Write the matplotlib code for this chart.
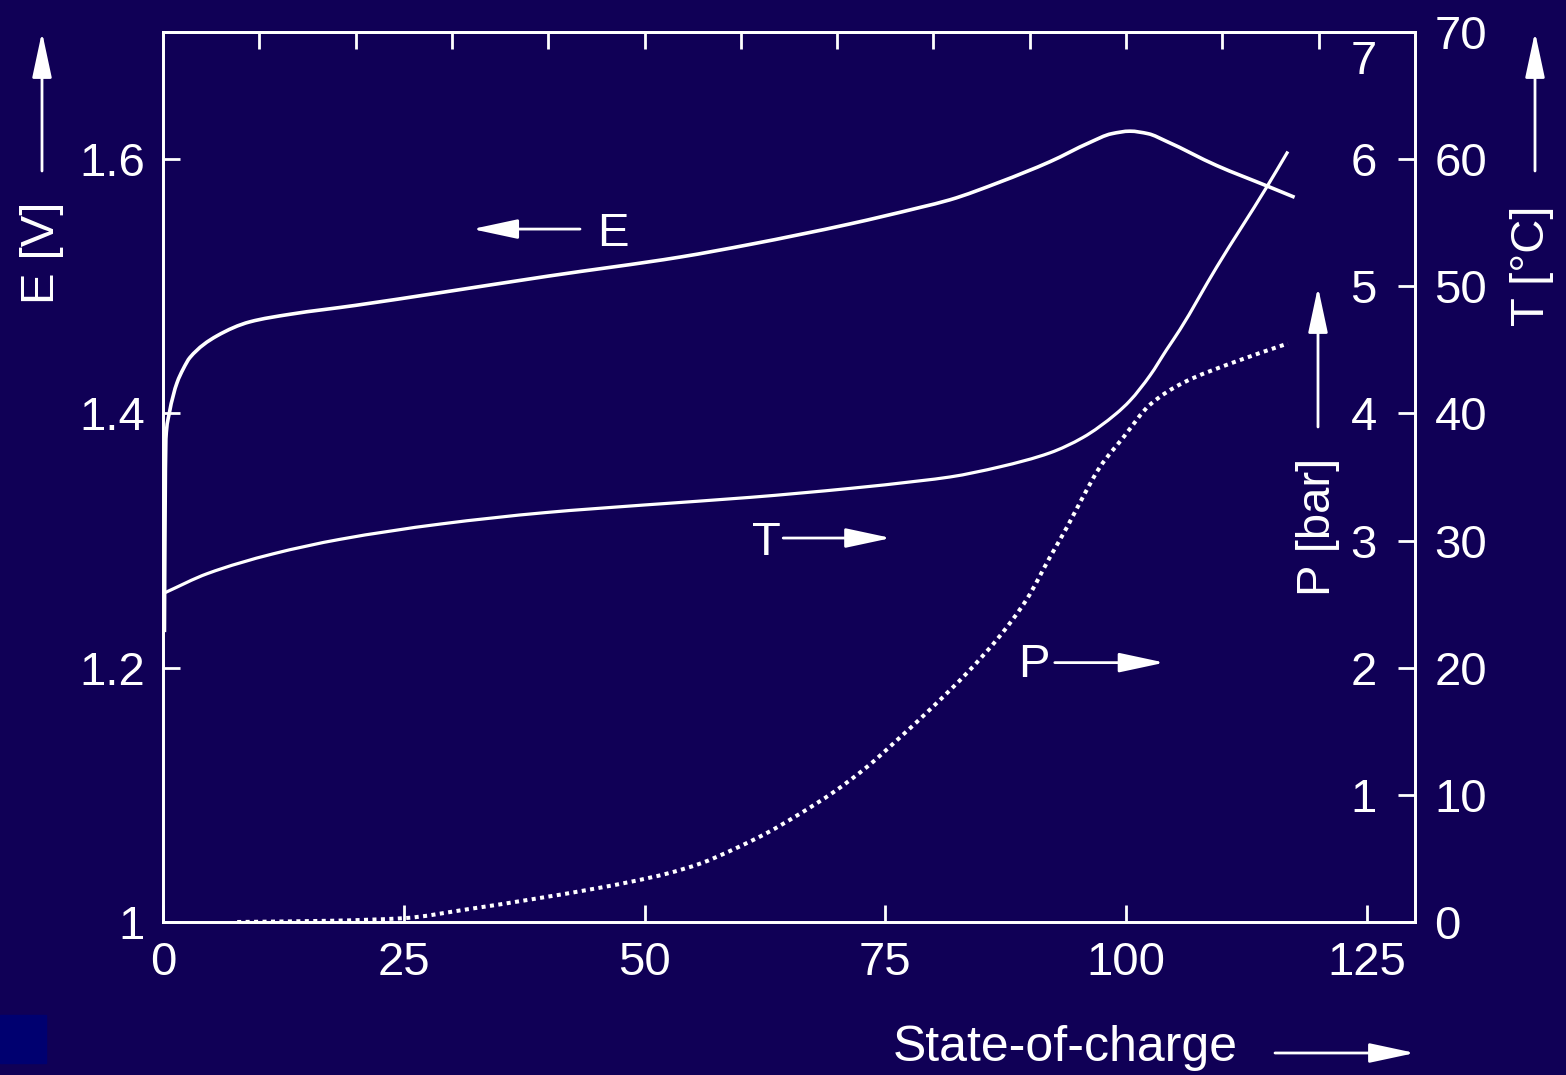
import matplotlib
matplotlib.use('Agg')
import numpy as np
import matplotlib.pyplot as plt
from matplotlib.path import Path
from matplotlib.patches import PathPatch, Rectangle
from matplotlib.transforms import blended_transform_factory

plt.rcParams['font.family'] = ['Liberation Sans', 'DejaVu Sans']

BG = '#100056'
FG = 'white'
W, H = 1566, 1075

# state of charge (x) and cell voltage E [V]
e_soc = [0.15, 0.2, 0.3, 0.65, 1.45, 2.1, 2.8, 5.6, 9.0, 13.2, 20, 28.8, 40, 53.7, 61, 71.3,
         78.6, 81.7, 86.9, 92.1, 96.2, 98.5, 100.4, 102.3, 104.2, 109.4, 114.6, 117.5]
e_volt = [1.228, 1.30, 1.38, 1.40, 1.424, 1.435, 1.444, 1.461, 1.472, 1.478, 1.485, 1.495,
          1.508, 1.523, 1.533, 1.549, 1.562, 1.568, 1.582, 1.598, 1.613, 1.620, 1.622,
          1.620, 1.614, 1.595, 1.579, 1.570]

# temperature T [°C]
t_soc = [0.2, 4.6, 11.4, 18.4, 28.8, 39.7, 50, 61, 71.3, 78.6, 81.7, 86.9, 92.1, 95.5, 99.0,
         100.4, 102.5, 104.2, 105.6, 109.4, 114.6, 116.8]
t_temp = [25.9, 27.4, 28.95, 30.1, 31.3, 32.2, 32.8, 33.4, 34.1, 34.7, 35.0, 35.8, 36.9, 38.1,
          40.0, 41.0, 43.0, 45.0, 46.6, 51.5, 57.8, 60.6]

# pressure P [bar]
p_soc = [7.7, 17.6, 25, 31.6, 38.4, 45.4, 48.8, 52.3, 55.8, 59.2, 62.7, 66.1, 69.6, 73.1, 76.5,
         79.9, 83.5, 86.9, 89.7, 92.1, 93.9, 95.5, 97.3, 99.7, 102.5, 105.9, 111.1, 116.8]
p_bar = [0.0, 0.01, 0.03, 0.10, 0.18, 0.27, 0.32, 0.38, 0.46, 0.57, 0.70, 0.85, 1.02, 1.22, 1.45,
         1.69, 1.96, 2.25, 2.54, 2.87, 3.11, 3.34, 3.58, 3.81, 4.07, 4.24, 4.40, 4.55]

x_ticks = [0, 25, 50, 75, 100, 125]
x_top_ticks = list(range(10, 130, 10))
e_ticks = [1.0, 1.2, 1.4, 1.6]
e_labels = ['1', '1.2', '1.4', '1.6']
t_ticks = [0, 10, 20, 30, 40, 50, 60, 70]
p_labels = ['1', '2', '3', '4', '5', '6', '7']
p_label_pos = [1, 2, 3, 4, 5, 6, 6.8]

FS = 34


def fx(px):
    return px / W


def fy(py):
    return 1 - py / H


def smooth_path(xs, ys):
    # bezier path through the points, tangents as in pchip
    x = np.asarray(xs, float)
    y = np.asarray(ys, float)
    h = np.diff(x)
    d = np.diff(y) / h
    m = np.zeros_like(y)
    for i in range(1, len(x) - 1):
        if d[i - 1] * d[i] > 0:
            w1 = 2 * h[i] + h[i - 1]
            w2 = h[i] + 2 * h[i - 1]
            m[i] = (w1 + w2) / (w1 / d[i - 1] + w2 / d[i])
    m[0] = d[0]
    m[-1] = d[-1]
    verts = [(x[0], y[0])]
    codes = [Path.MOVETO]
    for i in range(len(x) - 1):
        verts += [(x[i] + h[i] / 3, y[i] + m[i] * h[i] / 3),
                  (x[i + 1] - h[i] / 3, y[i + 1] - m[i + 1] * h[i] / 3),
                  (x[i + 1], y[i + 1])]
        codes += [Path.CURVE4] * 3
    return Path(verts, codes)


fig = plt.figure(figsize=(W / 100, H / 100), dpi=100, facecolor=BG)
fig.patches.append(Rectangle((0, fy(1063)), fx(46), (1063 - 1015) / H,
                             transform=fig.transFigure, color='#000070', zorder=0))

ax = fig.add_axes([fx(163), fy(922), (1415 - 163) / W, (922 - 32) / H])
ax.set_facecolor(BG)
ax.set_xlim(0, 130)
ax.set_ylim(1.0, 1.7)

ax_t = ax.twinx()
ax_t.set_ylim(0, 70)
ax_p = ax.twinx()
ax_p.set_ylim(0, 7)
ax_p.axis('off')

for a in (ax, ax_t):
    for s in a.spines.values():
        s.set_color(FG)
        s.set_linewidth(2)

ax.set_xticks(x_ticks)
ax.set_yticks(e_ticks, labels=e_labels)
ax.tick_params(axis='x', direction='in', length=12, width=2, colors=FG, labelsize=FS, pad=14)
ax.tick_params(axis='y', direction='in', length=12, width=2, colors=FG, labelsize=FS, pad=13)

top = ax.secondary_xaxis('top')
top.set_xticks(x_top_ticks)
top.tick_params(direction='in', length=12, width=2, colors=FG, labeltop=False)
top.spines['top'].set_color(FG)
top.spines['top'].set_linewidth(2)

ax_t.set_yticks(t_ticks)
ax_t.tick_params(axis='y', direction='in', length=12, width=2, colors=FG, labelsize=FS, pad=14)

# pressure scale labels inside the frame
ptr = blended_transform_factory(ax_p.transAxes, ax_p.transData)
for lab, pos in zip(p_labels, p_label_pos):
    ax_p.text(0.9696, pos, lab, transform=ptr, ha='right', va='center_baseline',
              color=FG, fontsize=FS)

ax.add_patch(PathPatch(smooth_path(e_soc, e_volt), fill=False, edgecolor=FG, lw=2.6,
                       capstyle='butt'))
ax_t.add_patch(PathPatch(smooth_path(t_soc, t_temp), fill=False, edgecolor=FG, lw=2.3,
                         capstyle='butt'))
ax_p.add_patch(PathPatch(smooth_path(p_soc, p_bar), fill=False, edgecolor=FG, lw=2.9,
                         linestyle=(0, (1, 1.1)), capstyle='butt'))

arrow_in = dict(arrowstyle='-|>,head_length=1.4,head_width=0.3', color=FG, lw=2,
                mutation_scale=20, shrinkA=0, shrinkB=0)

# curve markers
ax.annotate('', xy=(32.1, 1.545), xytext=(43.3, 1.545), arrowprops=arrow_in)
ax.text(45.1, 1.545, 'E', color=FG, fontsize=FS, ha='left', va='center_baseline')
ax.text(61.2, 1.302, 'T', color=FG, fontsize=FS, ha='left', va='center_baseline')
ax.annotate('', xy=(75.6, 1.302), xytext=(64.4, 1.302), arrowprops=arrow_in)
ax.text(88.8, 1.206, 'P', color=FG, fontsize=FS, ha='left', va='center_baseline')
ax.annotate('', xy=(104.0, 1.204), xytext=(92.6, 1.204), arrowprops=arrow_in)

# axis labels with arrows
fig.text(fx(42), fy(253), 'E [V]', rotation=90, color=FG, fontsize=FS, ha='center', va='center')
ax.annotate('', xy=(42, H - 32), xytext=(42, H - 171), xycoords='figure pixels',
            textcoords='figure pixels', arrowprops=arrow_in)

fig.text(fx(1532), fy(266), 'T [°C]', rotation=90, color=FG, fontsize=FS, ha='center', va='center')
ax.annotate('', xy=(1535, H - 32), xytext=(1535, H - 171), xycoords='figure pixels',
            textcoords='figure pixels', arrowprops=arrow_in)

fig.text(fx(1318), fy(527), 'P [bar]', rotation=90, color=FG, fontsize=FS, ha='center', va='center')
ax.annotate('', xy=(1318, H - 287), xytext=(1318, H - 427), xycoords='figure pixels',
            textcoords='figure pixels', arrowprops=arrow_in)

fig.text(fx(893), fy(1048), 'State-of-charge', color=FG, fontsize=36, ha='left', va='center')
ax.annotate('', xy=(1415, H - 1053), xytext=(1275, H - 1053), xycoords='figure pixels',
            textcoords='figure pixels', arrowprops=arrow_in)

fig.savefig('out.png', dpi=100, facecolor=BG)
